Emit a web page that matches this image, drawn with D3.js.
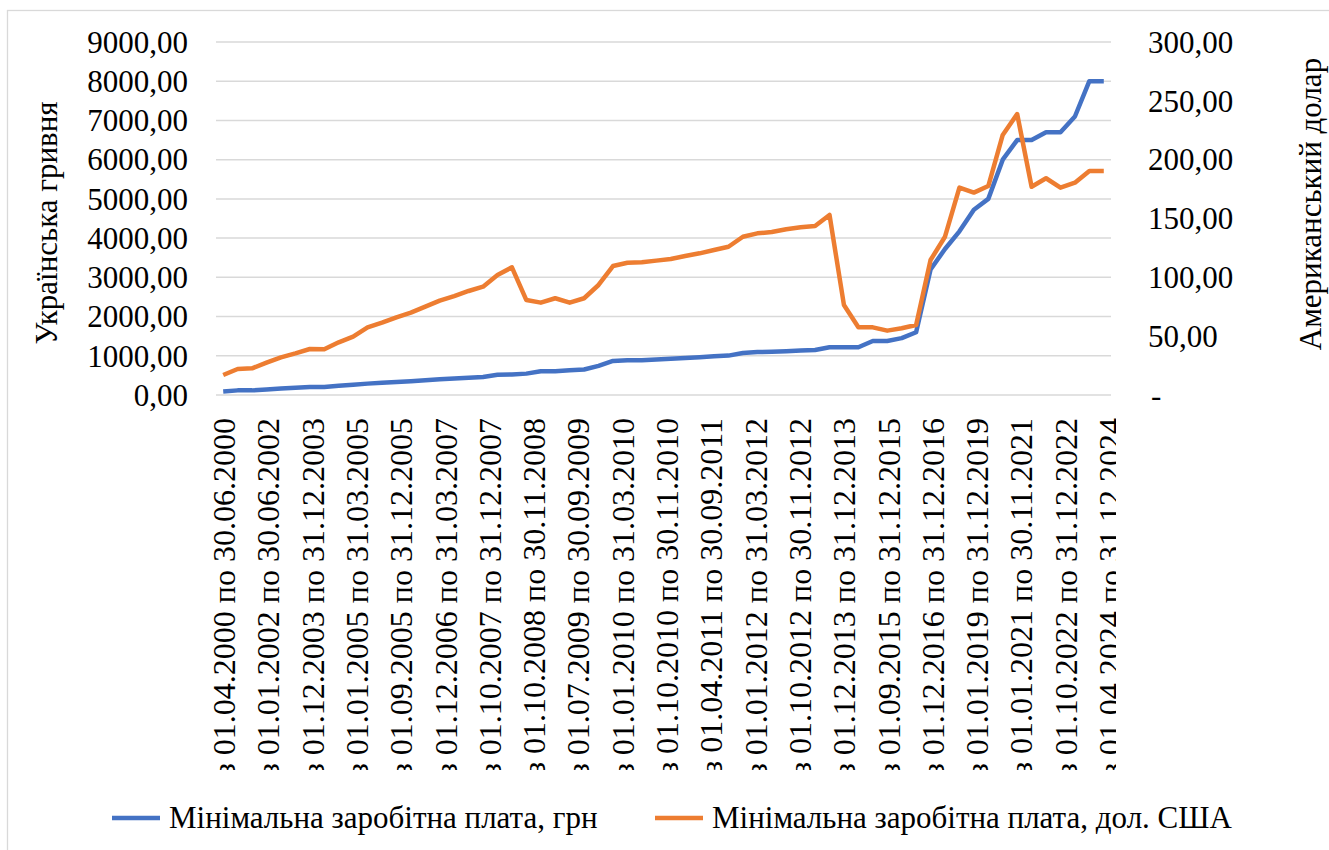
<!DOCTYPE html>
<html>
<head>
<meta charset="utf-8">
<script src="https://cdn.jsdelivr.net/npm/d3@7"></script>
</head>
<body style="margin:0">
<svg id="chart" width="1329" height="850"></svg>
<script>
// periods (categories), only every third one is labelled on the axis
var periods = [ "з 01.04.2000 по 30.06.2000", "з 01.07.2000 по 31.12.2000",
		"з 01.01.2001 по 31.12.2001", "з 01.01.2002 по 30.06.2002",
		"з 01.07.2002 по 31.12.2002", "з 01.01.2003 по 30.11.2003",
		"з 01.12.2003 по 31.12.2003", "з 01.01.2004 по 31.08.2004",
		"з 01.09.2004 по 31.12.2004", "з 01.01.2005 по 31.03.2005",
		"з 01.04.2005 по 30.06.2005", "з 01.07.2005 по 31.08.2005",
		"з 01.09.2005 по 31.12.2005", "з 01.01.2006 по 30.06.2006",
		"з 01.07.2006 по 30.11.2006", "з 01.12.2006 по 31.03.2007",
		"з 01.04.2007 по 30.06.2007", "з 01.07.2007 по 30.09.2007",
		"з 01.10.2007 по 31.12.2007", "з 01.01.2008 по 31.03.2008",
		"з 01.04.2008 по 30.09.2008", "з 01.10.2008 по 30.11.2008",
		"з 01.12.2008 по 31.12.2008", "з 01.01.2009 по 30.06.2009",
		"з 01.07.2009 по 30.09.2009", "з 01.10.2009 по 31.10.2009",
		"з 01.11.2009 по 31.12.2009", "з 01.01.2010 по 31.03.2010",
		"з 01.04.2010 по 30.06.2010", "з 01.07.2010 по 30.09.2010",
		"з 01.10.2010 по 30.11.2010", "з 01.12.2010 по 31.12.2010",
		"з 01.01.2011 по 31.03.2011", "з 01.04.2011 по 30.09.2011",
		"з 01.10.2011 по 30.11.2011", "з 01.12.2011 по 31.12.2011",
		"з 01.01.2012 по 31.03.2012", "з 01.04.2012 по 30.06.2012",
		"з 01.07.2012 по 30.09.2012", "з 01.10.2012 по 30.11.2012",
		"з 01.12.2012 по 31.12.2012", "з 01.01.2013 по 30.11.2013",
		"з 01.12.2013 по 31.12.2013", "з 01.01.2014 по 31.12.2014",
		"з 01.01.2015 по 31.08.2015", "з 01.09.2015 по 31.12.2015",
		"з 01.01.2016 по 30.04.2016", "з 01.05.2016 по 30.11.2016",
		"з 01.12.2016 по 31.12.2016", "з 01.01.2017 по 31.12.2017",
		"з 01.01.2018 по 31.12.2018", "з 01.01.2019 по 31.12.2019",
		"з 01.01.2020 по 31.08.2020", "з 01.09.2020 по 31.12.2020",
		"з 01.01.2021 по 30.11.2021", "з 01.12.2021 по 31.12.2021",
		"з 01.01.2022 по 30.09.2022", "з 01.10.2022 по 31.12.2022",
		"з 01.01.2023 по 31.12.2023", "з 01.01.2024 по 31.03.2024",
		"з 01.04.2024 по 31.12.2024", "з 01.01.2025 по 31.12.2025" ];

// minimum wage, UAH (left axis)
var wageUah = [ 90, 118, 118, 140, 165, 185, 205, 205, 237, 262, //
290, 310, 332, 350, 375, 400, 420, 440, 460, 515, //
525, 545, 605, 605, 630, 650, 744, 869, 884, 888, //
907, 922, 941, 960, 985, 1004, 1073, 1094, 1102, 1118, //
1134, 1147, 1218, 1218, 1218, 1378, 1378, 1450, 1600, 3200, //
3723, 4173, 4723, 5000, 6000, 6500, 6500, 6700, 6700, 7100, //
8000, 8000 ];

// minimum wage, USD (right axis)
var wageUsd = [ 17.0, 22.1, 22.7, 27.5, 32.0, 35.4, 39.1, 38.8, 44.8, 49.6, //
57.5, 61.5, 66.0, 70.0, 75.1, 80.2, 84.1, 88.4, 92.1, 102.0, //
108.5, 80.7, 78.5, 82.2, 78.5, 82.2, 93.5, 109.6, 112.4, 112.8, //
114.2, 115.6, 118.1, 120.4, 123.2, 126.0, 134.5, 137.4, 138.5, 140.8, //
142.5, 143.6, 153.0, 76.5, 57.5, 57.5, 54.7, 56.7, 59.5, 114.7, //
134.5, 176.2, 172.0, 177.6, 221.0, 238.8, 177.0, 184.2, 176.2, 180.4, //
190.4, 190.4 ];

var leftTicks = [ 0, 1000, 2000, 3000, 4000, 5000, 6000, 7000, 8000, 9000 ];
var rightTicks = [ 0, 50, 100, 150, 200, 250, 300 ];
var seriesNames = [ "Мінімальна заробітна плата, грн",
		"Мінімальна заробітна плата, дол. США" ];
var seriesColors = [ "#4472C4", "#ED7D31" ];

var FONT = "Liberation Serif, serif";
var LINE_WIDTH = 4.5;
var GRID_COLOR = "#d9d9d9";

var svg = d3.select("#chart");

var plot = {
	left : 216,
	right : 1111,
	top : 42,
	bottom : 395
};

// chart border
svg.append("rect") //
.attr("x", 7.5) //
.attr("y", 10.5) //
.attr("width", 1340) //
.attr("height", 860) //
.attr("fill", "none") //
.attr("stroke", GRID_COLOR) //
.attr("stroke-width", 1.3);

var x = d3.scaleBand().domain(periods).range([ plot.left, plot.right ]);
var yLeft = d3.scaleLinear().domain([ 0, 9000 ]).range(
		[ plot.bottom, plot.top ]);
var yRight = d3.scaleLinear().domain([ 0, 300 ]).range(
		[ plot.bottom, plot.top ]);

function cx(i) {
	return x(periods[i]) + x.bandwidth() / 2;
}// END: cx

function fmt(v) {
	return v.toFixed(2).replace(".", ",");
}// END: fmt

function serif(sel, size) {
	sel.attr("font-family", FONT) //
	.style("font-family", FONT) //
	.style("font-size", size + "px");
}// END: serif

// gridlines
svg.append("g").selectAll("line").data(leftTicks).enter().append("line") //
.attr("x1", plot.left) //
.attr("x2", plot.right) //
.attr("y1", function(d) {
	return yLeft(d);
}) //
.attr("y2", function(d) {
	return yLeft(d);
}) //
.attr("stroke", GRID_COLOR) //
.attr("stroke-width", 1.5);

// left axis
var leftAxis = svg.append("g") //
.attr("transform", "translate(188,0)") //
.call(d3.axisLeft(yLeft).tickValues(leftTicks).tickSize(0).tickPadding(0)
		.tickFormat(fmt));
leftAxis.select(".domain").remove();
leftAxis.call(serif, 31);
leftAxis.selectAll("text").call(serif, 31).attr("dy", "0.33em");

// right axis
var rightAxis = svg.append("g") //
.attr("transform", "translate(1148,0)") //
.call(d3.axisRight(yRight).tickValues(rightTicks).tickSize(0).tickPadding(0)
		.tickFormat(function(d) {
			return d === 0 ? "-" : fmt(d);
		}));
rightAxis.select(".domain").remove();
rightAxis.call(serif, 31);
rightAxis.selectAll("text").call(serif, 31) //
.attr("dy", "0.33em") //
.attr("x", function(d) {
	return d === 0 ? 3 : 0;
});

// category labels, every third period
var tickLabels = periods.filter(function(d, i) {
	return i % 3 === 0;
});
var xLabels = d3.scalePoint().domain(tickLabels).range([ 224, 1110 ]);

svg.append("clipPath").attr("id", "labelClip").append("rect") //
.attr("x", 150) //
.attr("y", -10) //
.attr("width", 966) //
.attr("height", 385);

var bottomAxis = svg.append("g") //
.attr("transform", "translate(0," + plot.bottom + ")") //
.attr("clip-path", "url(#labelClip)") //
.call(d3.axisBottom(xLabels).tickSize(0));
bottomAxis.select(".domain").remove();
bottomAxis.call(serif, 32);
bottomAxis.selectAll("text").call(serif, 32) //
.attr("transform", "rotate(-90)") //
.attr("text-anchor", "end") //
.attr("x", -23) //
.attr("y", 0) //
.attr("dy", "0.33em");

// axis titles
svg.append("text") //
.attr("transform", "translate(57,223) rotate(-90)") //
.attr("text-anchor", "middle") //
.call(serif, 31) //
.text("Українська гривня");

svg.append("text") //
.attr("transform", "translate(1321,204) rotate(-90)") //
.attr("text-anchor", "middle") //
.call(serif, 31) //
.text("Американський долар");

// lines
var lineLeft = d3.line().x(function(d, i) {
	return cx(i);
}).y(function(d) {
	return yLeft(d);
});

var lineRight = d3.line().x(function(d, i) {
	return cx(i);
}).y(function(d) {
	return yRight(d);
});

svg.append("path").datum(wageUah) //
.attr("d", lineLeft) //
.attr("fill", "none") //
.attr("stroke", seriesColors[0]) //
.attr("stroke-width", LINE_WIDTH) //
.attr("stroke-linejoin", "round");

svg.append("path").datum(wageUsd) //
.attr("d", lineRight) //
.attr("fill", "none") //
.attr("stroke", seriesColors[1]) //
.attr("stroke-width", LINE_WIDTH) //
.attr("stroke-linejoin", "round");

// legend
var legendX = [ 112, 655 ];
var legend = svg.append("g").selectAll("g").data(seriesNames).enter()
		.append("g").attr("transform", function(d, i) {
			return "translate(" + legendX[i] + ",818)";
		});

legend.append("line") //
.attr("x1", 0) //
.attr("x2", 48) //
.attr("stroke", function(d, i) {
	return seriesColors[i];
}) //
.attr("stroke-width", LINE_WIDTH);

legend.append("text") //
.attr("x", 57) //
.attr("dy", "0.33em") //
.call(serif, 31) //
.text(function(d) {
	return d;
});
</script>
</body>
</html>
